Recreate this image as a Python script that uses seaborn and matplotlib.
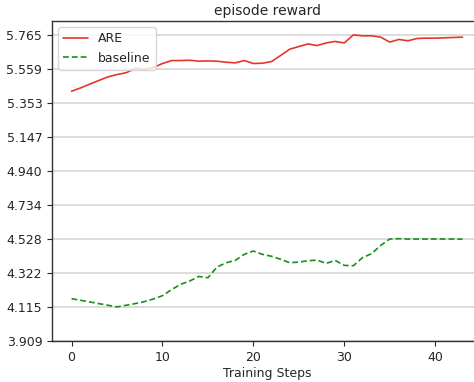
import numpy as np
import pandas as pd
import matplotlib
matplotlib.use("Agg")
import matplotlib.pyplot as plt
import seaborn as sns

steps = list(range(44))
are_reward = [
    5.425, 5.445, 5.468, 5.490, 5.512, 5.526, 5.537, 5.563, 5.557, 5.569,
    5.593, 5.611, 5.611, 5.613, 5.607, 5.609, 5.607, 5.601, 5.597, 5.611,
    5.593, 5.595, 5.605, 5.642, 5.680, 5.696, 5.712, 5.702, 5.718, 5.727,
    5.718, 5.767, 5.761, 5.761, 5.753, 5.723, 5.739, 5.731, 5.745, 5.747,
    5.747, 5.749, 5.751, 5.753,
]
baseline_reward = [
    4.166, 4.156, 4.146, 4.136, 4.126, 4.116, 4.126, 4.136, 4.148, 4.164,
    4.184, 4.221, 4.253, 4.273, 4.301, 4.293, 4.358, 4.384, 4.398, 4.435,
    4.455, 4.435, 4.423, 4.405, 4.384, 4.388, 4.396, 4.400, 4.380, 4.398,
    4.368, 4.366, 4.415, 4.439, 4.489, 4.528, 4.530, 4.528, 4.528, 4.528,
    4.528, 4.528, 4.528, 4.527,
]
series_names = ["ARE", "baseline"]
y_ticks = [3.909, 4.115, 4.322, 4.528, 4.734, 4.940, 5.147, 5.353, 5.559, 5.765]

sns.set_style("ticks")
plt.rcParams["font.family"] = ["DejaVu Sans"]

df = pd.DataFrame({
    "step": steps * 2,
    "reward": are_reward + baseline_reward,
    "method": [series_names[0]] * len(steps) + [series_names[1]] * len(steps),
})

fig = plt.figure(figsize=(4.74, 3.82), dpi=100)
ax = fig.add_axes([0.1097, 0.1073, 0.9073, 0.8377])

sns.lineplot(
    data=df, x="step", y="reward", hue="method", style="method",
    palette={"ARE": "#e8352b", "baseline": "#1a8f1a"},
    dashes={"ARE": "", "baseline": (3.5, 1.8)},
    linewidth=1.2, ax=ax,
)

ax.set_ylim(3.909, 5.851)
ax.set_xlim(-2.15, 45.15)
ax.set_yticks(y_ticks)
ax.set_yticklabels([f"{v:.3f}" for v in y_ticks])
ax.set_xticks([0, 10, 20, 30, 40])
ax.grid(axis="y", color="#d6d6d6", linewidth=1.2)
ax.set_axisbelow(True)
ax.set_title("episode reward", fontsize=10, pad=4)
ax.set_xlabel("Training Steps", fontsize=9, labelpad=2)
ax.set_ylabel("")
ax.tick_params(labelsize=9)
for s in ax.spines.values():
    s.set_color("#333333")
    s.set_linewidth(1.0)

leg = ax.legend(loc="upper left", fontsize=9, frameon=True, handlelength=2.0)
leg.set_title(None)

fig.savefig("out.png", dpi=100)
